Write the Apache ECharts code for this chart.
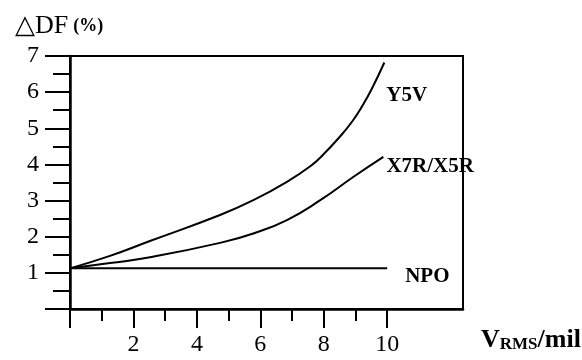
<!DOCTYPE html>
<html><head><meta charset="utf-8">
<script src="https://cdn.jsdelivr.net/npm/echarts@6/dist/echarts.min.js"></script>
<style>html,body{margin:0;padding:0;background:#fff}#c{width:582px;height:360px}</style>
</head><body><div id="c"></div>
<script>
// Data
const y5vX = [0, 1.26, 2.52, 4.73, 5.78, 6.84, 7.62, 7.97, 8.46, 8.89, 9.23, 9.52, 9.91];
const y5vY = [1.125, 1.47, 1.88, 2.60, 3.01, 3.52, 3.98, 4.26, 4.72, 5.18, 5.64, 6.10, 6.82];
const x7rX = [0, 1.26, 2.52, 4.73, 5.78, 6.84, 7.89, 8.94, 9.88];
const x7rY = [1.125, 1.27, 1.43, 1.83, 2.09, 2.46, 3.01, 3.66, 4.21];
const npoX = [0, 10];
const npoY = [1.125, 1.125];
const seriesNames = ['Y5V', 'X7R/X5R', 'NPO'];
const xMajorTicks = [0, 2, 4, 6, 8, 10];
const xMinorTicks = [1, 3, 5, 7, 9];
const xLabels = [2, 4, 6, 8, 10];
const yMajorTicks = [0, 1, 2, 3, 4, 5, 6, 7];
const yMinorTicks = [0.5, 1.5, 2.5, 3.5, 4.5, 5.5, 6.5];
const yLabels = [1, 2, 3, 4, 5, 6, 7];

const zip = (xs, ys) => xs.map((x, i) => [x, ys[i]]);
const serif = "'Liberation Serif', 'Times New Roman', serif";
const black = '#000';
const XMAX = 12.39;

const chart = echarts.init(document.getElementById('c'), null, {renderer: 'canvas'});

function xAx(ticks, len, labels, line) {
  return {
    type: 'value', min: 0, max: XMAX, position: 'bottom',
    axisLine: {show: line, onZero: false, lineStyle: {color: black, width: 2.5}},
    axisTick: {show: true, customValues: ticks, length: len, lineStyle: {color: black, width: 2}},
    axisLabel: labels ? {show: true, customValues: labels, fontSize: 24, fontFamily: serif, color: black, margin: 24}
                      : {show: false},
    splitLine: {show: false}
  };
}
function yAx(ticks, len, labels, line) {
  return {
    type: 'value', min: 0, max: 7, position: 'left',
    axisLine: {show: line, onZero: false, lineStyle: {color: black, width: 2.5}},
    axisTick: {show: true, customValues: ticks, length: len, lineStyle: {color: black, width: 2}},
    axisLabel: labels ? {show: true, customValues: labels, fontSize: 24, fontFamily: serif, color: black, margin: 31}
                      : {show: false},
    splitLine: {show: false}
  };
}
const lbl = (text, off) => ({
  show: true, formatter: text, fontSize: 21, fontWeight: 'bold', fontFamily: serif,
  color: black, distance: 0, align: 'left', verticalAlign: 'middle', offset: off
});

chart.setOption({
  animation: false,
  backgroundColor: '#fff',
  title: [
    {text: '{a|△DF} {b|(%)}', left: 10, top: 8,
     textStyle: {rich: {
       a: {fontSize: 26, fontWeight: 'normal', fontFamily: serif, color: black},
       b: {fontSize: 18, fontWeight: 'bold', fontFamily: serif, color: black}}}},
    {text: '{v|V}{s|RMS}{v|/mil}', left: 476, top: 322,
     textStyle: {rich: {
       v: {fontSize: 26, fontWeight: 'bold', fontFamily: serif, color: black},
       s: {fontSize: 17, fontWeight: 'bold', fontFamily: serif, color: black, verticalAlign: 'bottom'}}}}
  ],
  grid: {left: 70, top: 56, right: 119, bottom: 51, show: true, borderColor: black, borderWidth: 2, containLabel: false},
  xAxis: [xAx(xMajorTicks, 19, xLabels, true), xAx(xMinorTicks, 12, null, false)],
  yAxis: [yAx(yMajorTicks, 25, yLabels, true), yAx(yMinorTicks, 17, null, false)],
  series: [
    {type: 'line', name: seriesNames[0], data: zip(y5vX, y5vY), smooth: 0.5, showSymbol: false,
     lineStyle: {color: black, width: 2}, endLabel: lbl(seriesNames[0], [2, 33])},
    {type: 'line', name: seriesNames[1], data: zip(x7rX, x7rY), smooth: 0.5, showSymbol: false,
     lineStyle: {color: black, width: 2}, endLabel: lbl(seriesNames[1], [3, 10])},
    {type: 'line', name: seriesNames[2], data: zip(npoX, npoY), smooth: false, showSymbol: false,
     lineStyle: {color: black, width: 2}, endLabel: lbl(seriesNames[2], [18, 8])}
  ]
});
</script></body></html>
